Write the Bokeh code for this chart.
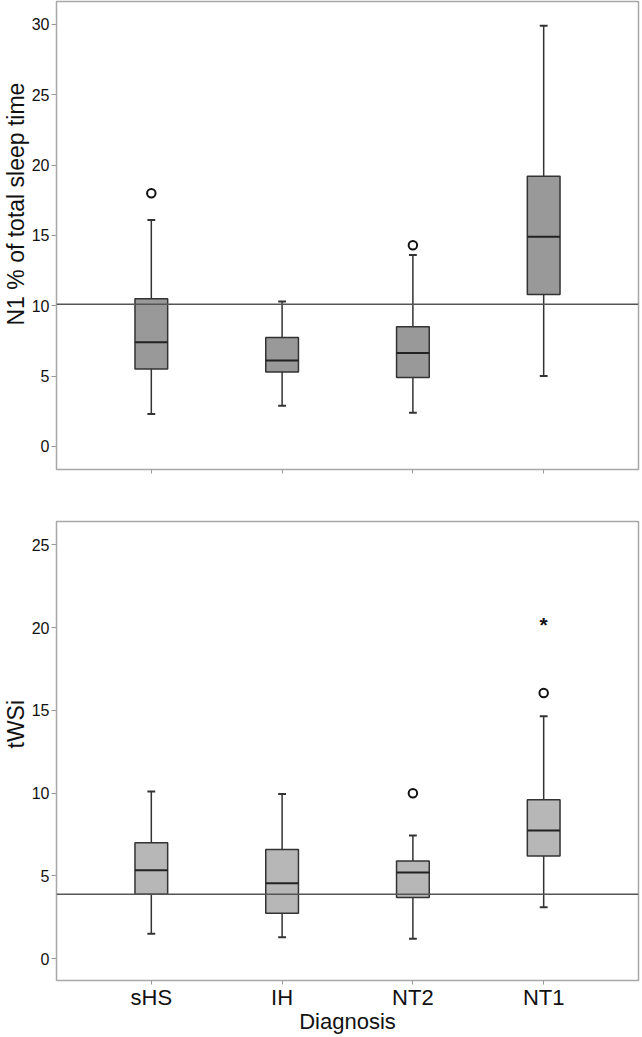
from bokeh.plotting import figure
from bokeh.layouts import column
from bokeh.models import FixedTicker, Span, Range1d, Title
from bokeh.embed import file_html
from bokeh.resources import INLINE
from bokeh.core.properties import value

categories = ["sHS", "IH", "NT2", "NT1"]

# Panel 1: N1 % of total sleep time
n1_low = [2.3, 2.9, 2.4, 5.0]
n1_q1 = [5.5, 5.3, 4.9, 10.8]
n1_med = [7.4, 6.1, 6.65, 14.9]
n1_q3 = [10.5, 7.75, 8.5, 19.2]
n1_high = [16.1, 10.3, 13.6, 29.9]
n1_out_cat = ["sHS", "NT2"]
n1_out_val = [18.0, 14.3]
n1_ext_cat = []
n1_ext_val = []
n1_ref = 10.1
n1_ticks = [0, 5, 10, 15, 20, 25, 30]

# Panel 2: tWSi
twsi_low = [1.5, 1.3, 1.2, 3.1]
twsi_q1 = [3.9, 2.75, 3.7, 6.2]
twsi_med = [5.35, 4.55, 5.2, 7.75]
twsi_q3 = [7.0, 6.6, 5.9, 9.6]
twsi_high = [10.1, 9.95, 7.45, 14.65]
twsi_out_cat = ["NT2", "NT1"]
twsi_out_val = [10.0, 16.05]
twsi_ext_cat = ["NT1"]
twsi_ext_val = [20.5]
twsi_ref = 3.9
twsi_ticks = [0, 5, 10, 15, 20, 25]

FONT = "Liberation Sans"
BOX_W = 0.25
CAP_W = 0.06


def make_panel(low, q1, med, q3, high, out_cat, out_val, ext_cat, ext_val, ref,
               fill, yr, ticks, ylabel, ylabel_shift, frame_h, bottom_panel):
    xs = [categories.index(c) + 1 for c in categories]
    p = figure(frame_width=582, frame_height=frame_h,
               x_range=Range1d(0.275, 4.725), y_range=Range1d(*yr),
               output_backend="svg", toolbar_location=None,
               min_border_left=56, min_border_right=2,
               min_border_top=1 if not bottom_panel else 26,
               min_border_bottom=26 if not bottom_panel else 0,
               background_fill_color="white", border_fill_color="white")
    p.xgrid.visible = False
    p.ygrid.visible = False
    p.outline_line_color = "#a8a8a8"
    p.outline_line_width = 1.5

    # whiskers
    p.segment(xs, q3, xs, high, line_color="#333333", line_width=1.5)
    p.segment(xs, low, xs, q1, line_color="#333333", line_width=1.5)
    p.segment([x - CAP_W / 2 for x in xs], high, [x + CAP_W / 2 for x in xs], high,
              line_color="#333333", line_width=2)
    p.segment([x - CAP_W / 2 for x in xs], low, [x + CAP_W / 2 for x in xs], low,
              line_color="#333333", line_width=2)
    # boxes
    p.vbar(x=xs, width=BOX_W, bottom=q1, top=q3, fill_color=fill,
           line_color="#333333", line_width=1.5)
    # medians
    p.segment([x - BOX_W / 2 for x in xs], med, [x + BOX_W / 2 for x in xs], med,
              line_color="#222222", line_width=2)
    # outliers
    if out_cat:
        p.scatter([categories.index(c) + 1 for c in out_cat], out_val, marker="circle",
                  size=8.5, fill_color=None, line_color="#111111", line_width=2)
    if ext_cat:
        p.text([categories.index(c) + 1 for c in ext_cat], ext_val, text=["*"] * len(ext_cat),
               text_align="center", text_baseline="middle", text_font=value(FONT),
               text_font_size="21px", text_font_style="bold", text_color="#111111",
               y_offset=5)

    p.add_layout(Span(location=ref, dimension="width", line_color="#555555", line_width=1.5))

    # y-axis title (left side panel, outside the axis)
    p.add_layout(Title(text=ylabel, align="left", offset=ylabel_shift, standoff=0,
                       text_font=FONT, text_font_size="23px", text_font_style="normal",
                       text_color="#111111"), "left")

    # axes
    p.yaxis.ticker = FixedTicker(ticks=ticks)
    p.xaxis.ticker = FixedTicker(ticks=xs)
    p.xaxis.major_label_overrides = {x: c for x, c in zip(xs, categories)}
    for ax in (p.xaxis, p.yaxis):
        ax.axis_line_color = None
        ax.major_tick_line_color = "#999999"
        ax.major_tick_in = 0
        ax.minor_tick_line_color = None
        ax.major_label_text_font = FONT
        ax.major_label_text_color = "#111111"
        ax.axis_label_text_font = FONT
        ax.axis_label_text_font_style = "normal"
        ax.axis_label_text_color = "#111111"
    p.yaxis.major_tick_out = 5
    p.yaxis.major_label_text_font_size = "16px"
    p.yaxis.major_label_standoff = 2
    p.xaxis.major_tick_out = 4
    if bottom_panel:
        p.xaxis.major_label_text_font_size = "22px"
        p.xaxis.major_label_standoff = 0
        p.xaxis.axis_label = "Diagnosis"
        p.xaxis.axis_label_text_font_size = "22px"
        p.xaxis.axis_label_standoff = -4
    else:
        p.xaxis.major_label_text_color = None
        p.xaxis.major_label_text_font_size = "10px"
        p.xaxis.major_label_standoff = 0
    return p


p1 = make_panel(n1_low, n1_q1, n1_med, n1_q3, n1_high, n1_out_cat, n1_out_val,
                n1_ext_cat, n1_ext_val, n1_ref, "#999999", (-1.64, 31.63), n1_ticks,
                "N1 % of total sleep time", 144, 468, False)
p2 = make_panel(twsi_low, twsi_q1, twsi_med, twsi_q3, twsi_high, twsi_out_cat, twsi_out_val,
                twsi_ext_cat, twsi_ext_val, twsi_ref, "#b7b7b7", (-1.32, 26.42), twsi_ticks,
                "tWSi", 232, 459, True)

layout = column(p1, p2, spacing=0)
open("out.html", "w").write(file_html(layout, INLINE))
